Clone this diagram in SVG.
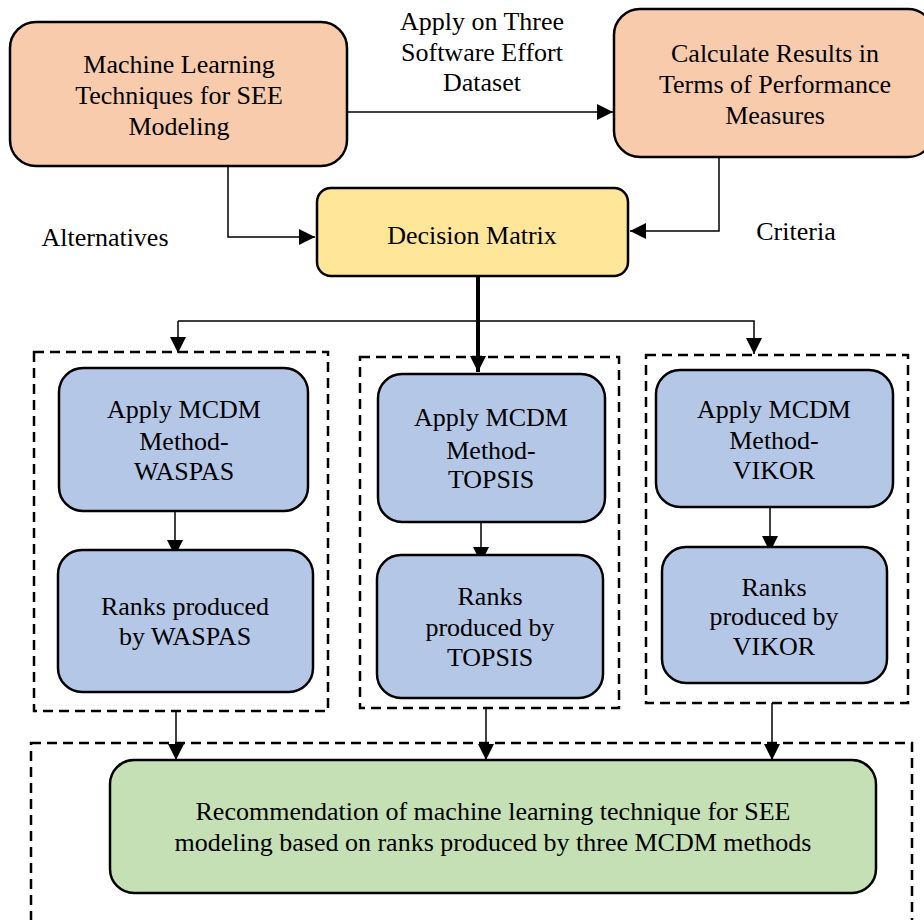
<svg xmlns="http://www.w3.org/2000/svg" width="924" height="920" viewBox="0 0 924 920">
<style>
.n{stroke:#000;stroke-width:2.5}
.or{fill:#F8CBAD}.ye{fill:#FFE699}.bl{fill:#B4C7E7}.gr{fill:#C5E0B4}
.d{fill:none;stroke:#000;stroke-width:2.5;stroke-dasharray:10,6}
text{font-family:"Liberation Serif","Times New Roman",serif !important;font-size:26px;fill:#000;text-anchor:middle}
.c{fill:none;stroke:#000;stroke-width:1.5}
</style>
<defs>
<marker id="ah2" markerWidth="16" markerHeight="16" refX="16" refY="8" orient="auto" markerUnits="userSpaceOnUse" viewBox="0 0 16 16"><path d="M0,0 L16,8 L0,16 z" fill="#000"/></marker>
</defs>
<rect width="924" height="920" fill="#fff"/>
<g id="groups">
<rect class="d" x="34" y="352" width="294" height="359"/>
<rect class="d" x="360" y="357" width="259" height="351"/>
<rect class="d" x="646" y="355" width="262" height="348"/>
<rect class="d" x="31" y="743" width="881" height="200"/>
</g>
<g id="connectors">
<path class="c" d="M347,112 H613" marker-end="url(#ah2)"/>
<path class="c" d="M228,166 V237 H315" marker-end="url(#ah2)"/>
<path class="c" d="M719,157 V231 H630" marker-end="url(#ah2)"/>
<path d="M478,276 V372" fill="none" stroke="#000" stroke-width="4" marker-end="url(#ah2)"/>
<path class="c" d="M178,321 H754 V354" marker-end="url(#ah2)"/>
<path class="c" d="M178,321 V353" marker-end="url(#ah2)"/>
<path class="c" d="M175,511 V556" marker-end="url(#ah2)"/>
<path class="c" d="M481,522 V563" marker-end="url(#ah2)"/>
<path class="c" d="M770,507 V552" marker-end="url(#ah2)"/>
<path class="c" d="M176,711 V760" marker-end="url(#ah2)"/>
<path class="c" d="M486,708 V760" marker-end="url(#ah2)"/>
<path class="c" d="M772,703 V760" marker-end="url(#ah2)"/>
</g>
<g font-family="Liberation Serif, serif" font-size="26" text-anchor="middle">
<g id="labels">
<text x="482" y="30">Apply on Three</text>
<text x="482" y="61">Software Effort</text>
<text x="482" y="91">Dataset</text>
<text x="105" y="246">Alternatives</text>
<text x="796" y="240">Criteria</text>
</g>
<g id="ml">
<rect class="n or" x="10" y="22" width="337" height="144" rx="26"/>
<text x="179" y="73">Machine Learning</text>
<text x="179" y="104">Techniques for SEE</text>
<text x="179" y="135">Modeling</text>
</g>
<g id="calc">
<rect class="n or" x="614" y="9" width="320" height="148" rx="26"/>
<text x="775" y="62">Calculate Results in</text>
<text x="775" y="93">Terms of Performance</text>
<text x="775" y="124">Measures</text>
</g>
<g id="dm">
<rect class="n ye" x="317" y="188" width="311" height="88" rx="14"/>
<text x="472" y="244">Decision Matrix</text>
</g>
<g id="waspas">
<rect class="n bl" x="59" y="368" width="249" height="143" rx="24"/>
<text x="184" y="418">Apply MCDM</text>
<text x="184" y="450">Method-</text>
<text x="184" y="480">WASPAS</text>
</g>
<g id="rwaspas">
<rect class="n bl" x="58" y="550" width="255" height="142" rx="24"/>
<text x="185" y="615">Ranks produced</text>
<text x="185" y="645">by WASPAS</text>
</g>
<g id="topsis">
<rect class="n bl" x="378" y="374" width="227" height="148" rx="24"/>
<text x="491" y="426">Apply MCDM</text>
<text x="491" y="459">Method-</text>
<text x="491" y="488">TOPSIS</text>
</g>
<g id="rtopsis">
<rect class="n bl" x="377" y="555" width="226" height="143" rx="24"/>
<text x="490" y="605">Ranks</text>
<text x="490" y="636">produced by</text>
<text x="490" y="666">TOPSIS</text>
</g>
<g id="vikor">
<rect class="n bl" x="656" y="370" width="237" height="137" rx="24"/>
<text x="774" y="418">Apply MCDM</text>
<text x="774" y="449">Method-</text>
<text x="774" y="479">VIKOR</text>
</g>
<g id="rvikor">
<rect class="n bl" x="662" y="547" width="225" height="136" rx="24"/>
<text x="774" y="596">Ranks</text>
<text x="774" y="625">produced by</text>
<text x="774" y="655">VIKOR</text>
</g>
<g id="rec">
<rect class="n gr" x="110" y="760" width="766" height="133" rx="24"/>
<text x="493" y="820">Recommendation of machine learning technique for SEE</text>
<text x="493" y="851">modeling based on ranks produced by three MCDM methods</text>
</g>
</g>
</svg>
